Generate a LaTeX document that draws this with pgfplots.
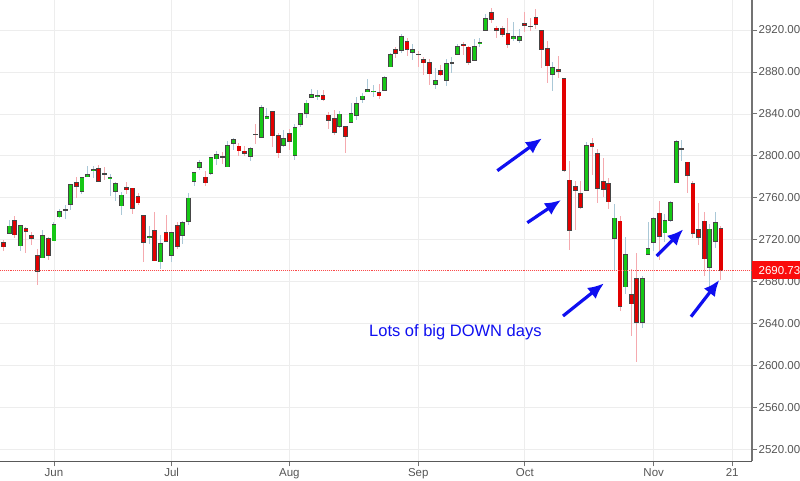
\documentclass[border=0pt]{standalone}
\usepackage{fontspec}
\setmainfont{Liberation Sans}
\usepackage{pgfplots}
\usepackage{pgfplotstable}
\pgfplotsset{compat=1.18}
\usetikzlibrary{arrows.meta}
\definecolor{cgreen}{RGB}{22,200,22}
\definecolor{cred}{RGB}{226,0,0}
\definecolor{cborder}{RGB}{70,70,70}
\definecolor{wickg}{RGB}{170,200,215}
\definecolor{wickr}{RGB}{245,170,175}
\definecolor{ablue}{RGB}{15,15,240}
\definecolor{tickgray}{RGB}{85,85,85}
\definecolor{boxred}{RGB}{250,12,12}

\pgfplotstableread{
i O H L C
-9 2717.35 2719.50 2709.18 2712.97
-8 2726.00 2739.19 2725.70 2733.01
-7 2738.34 2742.24 2721.88 2724.44
-6 2713.98 2733.33 2709.54 2733.29
-5 2730.94 2731.97 2707.38 2727.76
-4 2723.60 2727.36 2714.99 2721.33
-3 2705.11 2710.67 2676.81 2689.86
-2 2702.43 2729.34 2702.43 2724.01
-1 2720.98 2722.50 2700.68 2705.27
0 2718.70 2736.93 2718.70 2734.62
1 2741.67 2749.16 2740.54 2746.87
2 2748.46 2752.61 2739.51 2748.80
3 2753.25 2772.39 2748.46 2772.35
4 2774.84 2779.90 2760.16 2770.37
5 2765.84 2779.39 2763.59 2779.03
6 2780.18 2790.21 2780.17 2782.00
7 2785.60 2789.80 2778.78 2786.85
8 2787.94 2791.47 2774.65 2775.63
9 2783.21 2789.06 2776.52 2782.49
10 2777.78 2782.81 2761.73 2779.66
11 2765.79 2774.99 2757.12 2773.75
12 2752.01 2765.05 2743.19 2762.59
13 2769.73 2774.86 2763.91 2767.32
14 2769.28 2769.28 2744.39 2749.76
15 2760.79 2764.17 2752.68 2754.88
16 2742.94 2742.94 2698.67 2717.07
17 2722.12 2732.91 2715.60 2723.06
18 2728.45 2746.09 2699.38 2699.63
19 2698.69 2724.34 2691.99 2716.31
20 2727.13 2743.26 2718.03 2718.37
21 2704.95 2727.26 2698.95 2726.71
22 2733.27 2736.58 2711.16 2713.22
23 2724.19 2737.83 2716.02 2736.61
24 2737.68 2764.41 2733.52 2759.82
25 2775.62 2784.65 2770.73 2784.17
26 2788.56 2795.58 2786.24 2793.84
27 2779.82 2785.91 2770.77 2774.02
28 2783.14 2799.22 2781.53 2798.29
29 2796.93 2804.53 2791.69 2801.31
30 2798.96 2804.08 2791.70 2798.43
31 2789.34 2814.19 2789.24 2809.55
32 2811.35 2816.76 2805.89 2815.62
33 2809.37 2812.05 2799.77 2804.49
34 2804.55 2809.70 2800.01 2801.83
35 2799.17 2808.61 2795.14 2806.98
36 2820.68 2829.99 2811.12 2820.40
37 2817.73 2848.03 2817.73 2846.07
38 2835.49 2845.57 2835.26 2837.44
39 2842.35 2843.17 2808.34 2818.82
40 2819.00 2821.74 2798.11 2802.60
41 2809.73 2824.46 2808.06 2816.29
42 2821.17 2825.83 2805.85 2813.36
43 2800.48 2829.91 2796.34 2827.22
44 2829.62 2840.38 2827.37 2840.35
45 2840.29 2853.29 2835.98 2850.40
46 2855.92 2863.43 2855.92 2858.45
47 2856.79 2862.44 2853.09 2857.70
48 2857.19 2862.48 2851.98 2853.58
49 2838.90 2842.20 2825.81 2833.28
50 2835.46 2843.40 2819.88 2821.93
51 2827.88 2843.11 2826.58 2839.96
52 2827.95 2827.95 2802.49 2818.37
53 2831.44 2850.49 2831.44 2840.69
54 2838.32 2855.63 2833.73 2850.13
55 2853.93 2859.76 2850.62 2857.05
56 2861.51 2873.23 2861.32 2862.96
57 2860.99 2867.54 2856.05 2861.82
58 2860.29 2868.78 2854.03 2856.98
59 2862.35 2876.16 2862.35 2874.69
60 2884.69 2898.25 2884.69 2896.74
61 2901.45 2903.77 2893.50 2897.52
62 2900.62 2916.50 2898.40 2914.04
63 2908.94 2912.46 2895.22 2901.13
64 2898.37 2906.32 2891.73 2901.52
65 2896.96 2900.18 2885.13 2896.72
66 2891.59 2894.21 2876.92 2888.60
67 2888.64 2892.05 2867.29 2878.05
68 2868.26 2883.81 2864.12 2871.68
69 2881.39 2886.93 2875.94 2877.13
70 2871.57 2892.52 2866.78 2887.89
71 2888.29 2894.65 2879.20 2888.92
72 2896.85 2906.76 2896.39 2904.18
73 2906.38 2908.30 2895.77 2904.98
74 2903.83 2904.65 2886.16 2888.80
75 2890.74 2911.17 2890.43 2904.31
76 2906.60 2912.36 2903.82 2907.95
77 2919.73 2934.80 2919.73 2930.75
78 2936.76 2940.91 2927.11 2929.67
79 2921.83 2923.79 2912.63 2919.37
80 2921.75 2923.95 2913.70 2915.56
81 2916.98 2931.15 2903.28 2905.97
82 2911.65 2927.22 2909.27 2914.00
83 2910.03 2920.53 2907.50 2913.98
84 2926.29 2937.06 2917.91 2924.59
85 2923.80 2931.42 2919.37 2923.43
86 2931.69 2939.86 2921.36 2925.51
87 2919.35 2919.78 2883.92 2901.61
88 2902.54 2909.64 2869.29 2885.57
89 2877.53 2889.45 2862.08 2884.43
90 2882.51 2894.83 2874.27 2880.34
91 2873.90 2874.02 2784.86 2785.68
92 2776.87 2795.14 2710.51 2728.37
93 2770.54 2775.77 2729.44 2767.13
94 2763.83 2775.99 2749.03 2750.79
95 2767.05 2813.46 2766.91 2809.92
96 2811.67 2816.94 2781.81 2809.21
97 2802.00 2806.04 2755.18 2768.78
98 2775.66 2797.77 2760.27 2767.78
99 2773.94 2778.94 2749.22 2755.88
100 2721.03 2753.59 2691.43 2740.69
101 2737.87 2742.59 2651.89 2656.10
102 2674.88 2722.70 2667.84 2705.57
103 2667.86 2692.38 2628.16 2658.69
104 2682.65 2706.85 2603.54 2641.25
105 2640.68 2685.43 2635.34 2682.63
106 2705.60 2736.69 2705.60 2711.74
107 2717.58 2741.67 2708.85 2740.37
108 2745.45 2756.55 2700.44 2723.06
109 2726.37 2744.27 2717.94 2738.31
110 2738.40 2756.82 2737.08 2755.45
111 2774.13 2815.15 2774.13 2813.89
112 2806.38 2814.75 2794.99 2806.83
113 2794.10 2794.10 2764.24 2781.01
114 2773.93 2775.99 2722.00 2726.22
115 2730.05 2754.60 2714.98 2722.18
116 2737.90 2746.80 2685.75 2701.58
117 2693.52 2735.38 2670.75 2730.20
118 2718.54 2746.75 2712.16 2736.27
119 2730.74 2733.16 2681.09 2690.73
}\ohlc

\begin{document}
\begin{tikzpicture}
\useasboundingbox (0,0) rectangle (800pt,481pt);
\clip (0,0) rectangle (800pt,481pt);
\begin{axis}[
  at={(0pt,19.5pt)}, anchor=south west,
  scale only axis, width=752pt, height=461.5pt,
  xmin=-9.63, xmax=124.54, ymin=2508.4, ymax=2948.6,
  axis x line=bottom, axis y line=right,
  x axis line style={-, color=black!65, line width=1.3pt},
  y axis line style={-, color=black!55, line width=1.2pt},
  tick align=outside, major tick length=5pt,
  tick style={color=black!55, line width=0.8pt},
  xtick={0,21,42,65,84,107,121},
  xticklabels={Jun,Jul,Aug,Sep,Oct,Nov,21},
  ytick={2520,2560,...,2920},
  grid=major,
  major grid style={color=black!7, line width=0.6pt},
  ticklabel style={font=\fontsize{11.5}{13}\selectfont, text=tickgray},
  yticklabel style={inner xsep=1.5pt},
  xticklabel style={inner ysep=1.5pt},
  /pgf/number format/fixed,
  /pgf/number format/fixed zerofill,
  /pgf/number format/precision=2,
  /pgf/number format/1000 sep={},
  /pgf/number format/assume math mode=true,
]
% wicks
\addplot[draw=none, mark=none, forget plot, restrict expr to domain={\thisrow{C}-\thisrow{O}}{0:10000},
  error bars/.cd, y dir=both, y explicit, error mark=none,
  error bar style={draw=wickg, line width=1pt}]
  table[x=i, y expr=(\thisrow{H}+\thisrow{L})/2, y error expr=(\thisrow{H}-\thisrow{L})/2] {\ohlc};
\addplot[draw=none, mark=none, forget plot, restrict expr to domain={\thisrow{O}-\thisrow{C}}{0.0001:10000},
  error bars/.cd, y dir=both, y explicit, error mark=none,
  error bar style={draw=wickr, line width=1pt}]
  table[x=i, y expr=(\thisrow{H}+\thisrow{L})/2, y error expr=(\thisrow{H}-\thisrow{L})/2] {\ohlc};
% body borders
\addplot[draw=none, mark=none, forget plot,
  error bars/.cd, y dir=both, y explicit, error mark=none,
  error bar style={draw=cborder, line width=4.8pt}]
  table[x=i, y expr=(\thisrow{O}+\thisrow{C})/2, y error expr={abs(\thisrow{C}-\thisrow{O})/2+0.38}] {\ohlc};
% bodies up
\addplot[draw=none, mark=none, forget plot, restrict expr to domain={\thisrow{C}-\thisrow{O}}{0:10000},
  error bars/.cd, y dir=both, y explicit, error mark=none,
  error bar style={draw=cgreen, line width=3.2pt}]
  table[x=i, y expr=(\thisrow{O}+\thisrow{C})/2, y error expr={max(abs(\thisrow{C}-\thisrow{O})/2-0.38,0)}] {\ohlc};
% bodies down
\addplot[draw=none, mark=none, forget plot, restrict expr to domain={\thisrow{O}-\thisrow{C}}{0.0001:10000},
  error bars/.cd, y dir=both, y explicit, error mark=none,
  error bar style={draw=cred, line width=3.2pt}]
  table[x=i, y expr=(\thisrow{O}+\thisrow{C})/2, y error expr={max(abs(\thisrow{C}-\thisrow{O})/2-0.38,0)}] {\ohlc};
% last price line
\addplot[boxred!75, densely dotted, line width=0.9pt] coordinates {(-12,2690.73) (127,2690.73)};
\coordinate (P) at (axis cs:124.54,2690.73);
\end{axis}
\node[fill=boxred, text=white, anchor=west, minimum height=18pt, inner xsep=6.5pt, inner ysep=0pt,
  font=\fontsize{11.5}{13}\selectfont] at (P) {2690.73};
\begin{scope}[ablue, line width=3.2pt, -{Latex[length=16pt,width=14pt]}]
\draw (497.3pt,310.3pt) -- (542pt,342.7pt);
\draw (527.3pt,258.3pt) -- (561pt,281pt);
\draw (563pt,165pt) -- (604pt,197.7pt);
\draw (656.7pt,225pt) -- (683.3pt,251.7pt);
\draw (691pt,164.3pt) -- (719.3pt,201pt);
\end{scope}
\node[anchor=base west, inner sep=0pt, text=ablue, font=\fontsize{16.5}{18}\selectfont] at (369pt,144.3pt) {Lots of big DOWN days};
\end{tikzpicture}
\end{document}
